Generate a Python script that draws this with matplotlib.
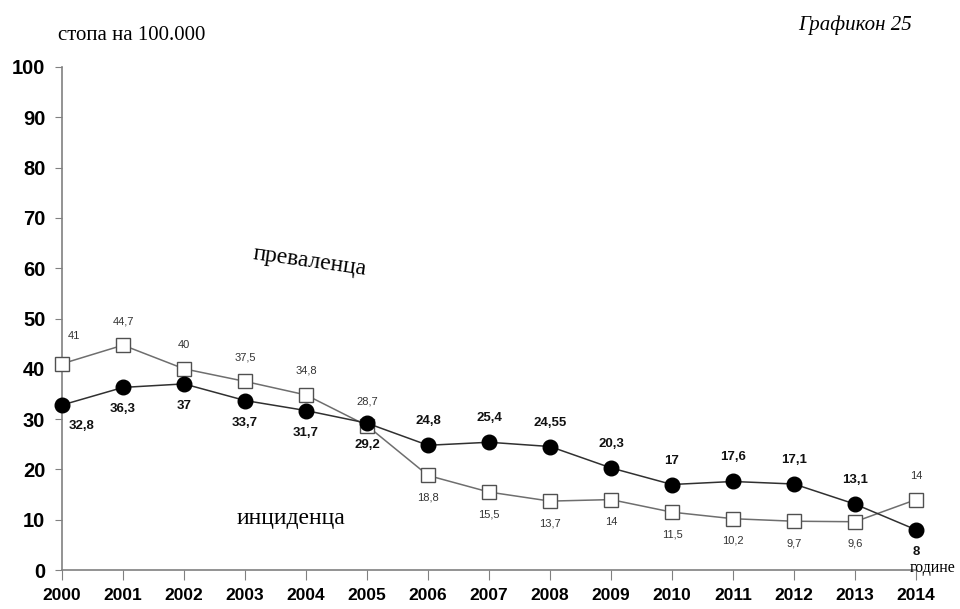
import matplotlib
matplotlib.use("Agg")
import matplotlib.pyplot as plt

years = list(range(2000, 2015))
prevalence = [41, 44.7, 40, 37.5, 34.8, 28.7, 18.8, 15.5, 13.7, 14, 11.5, 10.2, 9.7, 9.6, 14]
incidence = [32.8, 36.3, 37, 33.7, 31.7, 29.2, 24.8, 25.4, 24.55, 20.3, 17, 17.6, 17.1, 13.1, 8]
prev_labels = ["41", "44,7", "40", "37,5", "34,8", "28,7", "18,8", "15,5", "13,7", "14", "11,5", "10,2", "9,7", "9,6", "14"]
inc_labels = ["32,8", "36,3", "37", "33,7", "31,7", "29,2", "24,8", "25,4", "24,55", "20,3", "17", "17,6", "17,1", "13,1", "8"]
prev_pos = ["ur", "u", "u", "u", "u", "u", "d", "d", "d", "d", "d", "d", "d", "d", "u"]
inc_pos = ["dr", "d", "d", "d", "d", "d", "u", "u", "u", "u", "u", "u", "u", "u", "d"]
yticks = list(range(0, 101, 10))

fig = plt.figure(figsize=(9.6, 6.09), dpi=100)
ax = fig.add_axes([0.0646, 0.064, 0.8896, 0.826])

ax.plot(years, prevalence, color="#6e6e6e", lw=1.1, marker="s", ms=9.5,
        mfc="white", mec="#505050", mew=1.0, zorder=3)
ax.plot(years, incidence, color="#303030", lw=1.1, marker="o", ms=10.5,
        mfc="black", mec="black", zorder=4)

offs = {"u": (0, 24), "d": (0, -22), "ur": (12, 28), "dr": (20, -21)}
for x, y, t, p in zip(years, prevalence, prev_labels, prev_pos):
    ax.annotate(t, (x, y), xytext=offs[p], textcoords="offset pixels",
                ha="center", va="center", fontsize=8, color="#333333",
                family="Liberation Sans")
for x, y, t, p in zip(years, incidence, inc_labels, inc_pos):
    ax.annotate(t, (x, y), xytext=offs[p], textcoords="offset pixels",
                ha="center", va="center", fontsize=9.5, color="#111111",
                fontweight="bold", family="Liberation Sans")

ax.set_xlim(2000, 2014)
ax.set_ylim(0, 100)
ax.set_yticks(yticks)
ax.set_xticks(years)
ax.set_yticklabels([str(v) for v in yticks], fontsize=14.5, fontweight="bold",
                   family="Liberation Sans")
ax.set_xticklabels([str(v) for v in years], fontsize=12.5, fontweight="bold",
                   family="Liberation Sans")
for s in ["top", "right"]:
    ax.spines[s].set_visible(False)
for s in ["left", "bottom"]:
    ax.spines[s].set_color("#808080")
    ax.spines[s].set_linewidth(1.2)
ax.tick_params(axis="y", direction="out", length=5, color="#808080", pad=7)
ax.tick_params(axis="x", direction="out", length=7, color="#808080", pad=6)
for ln in ax.lines:
    ln.set_clip_on(False)

fig.text(0.06, 0.942, "стопа на 100.000", fontsize=15, family="Liberation Serif",
         ha="left", va="center")
fig.text(0.95, 0.958, "Графикон 25", fontsize=15, family="Liberation Serif",
         style="italic", ha="right", va="center")
fig.text(0.948, 0.068, "године", fontsize=11.5, family="Liberation Serif",
         ha="left", va="center")
fig.text(0.323, 0.57, "преваленца", fontsize=17, family="Liberation Serif",
         ha="center", va="center", rotation=-8)
fig.text(0.303, 0.149, "инциденца", fontsize=17, family="Liberation Serif",
         ha="center", va="center")

fig.savefig("out.png", dpi=100)
